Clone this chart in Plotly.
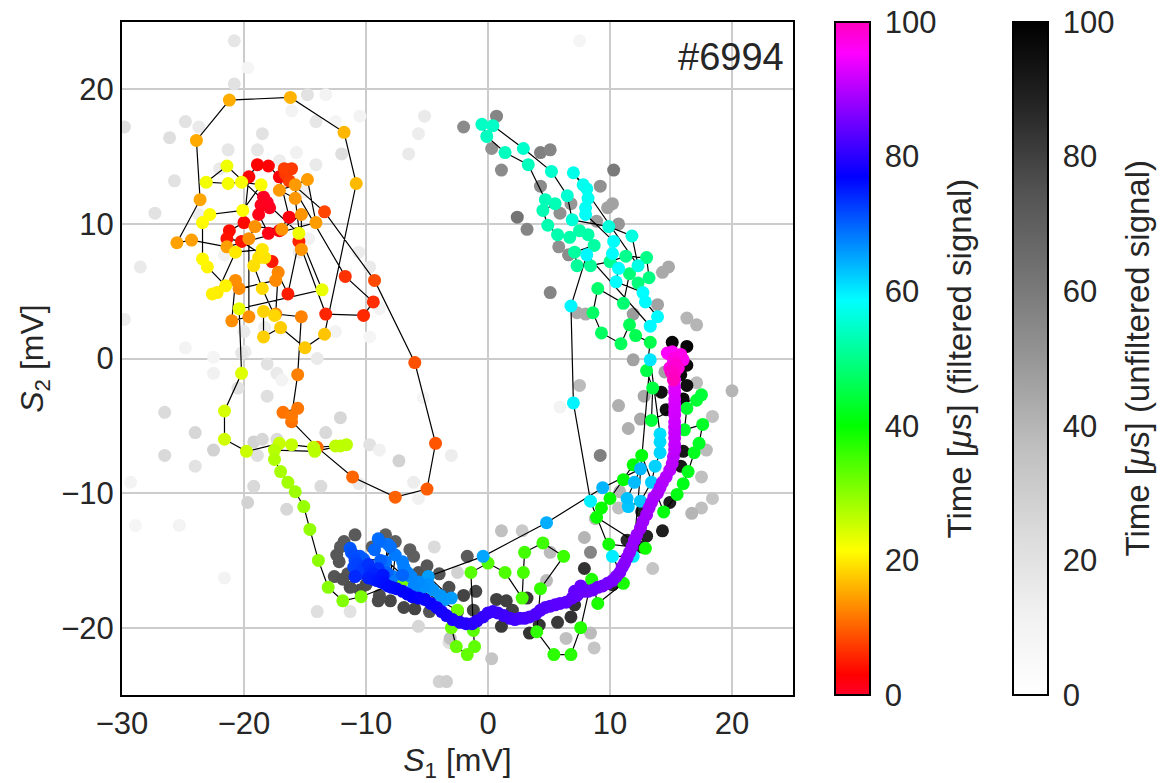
import plotly.graph_objects as go

# ---------------- filtered signal trajectory: (S1, S2, time) ----------------
seg_red = [
    (-18.1, 11.6, 0.0), (-18.4, 12.0, 0.3), (-17.9, 11.2, 0.6), (-18.6, 11.4, 0.9),
    (-18.8, 10.7, 1.2), (-18.0, 9.3, 1.5), (-17.1, 9.5, 1.8), (-16.3, 10.5, 2.1),
    (-17.1, 13.5, 2.4), (-18.0, 14.3, 2.7), (-18.9, 14.4, 3.0), (-19.6, 13.5, 3.3),
    (-20.0, 10.1, 3.6), (-21.2, 9.5, 3.9), (-21.4, 8.9, 4.2), (-20.2, 8.7, 4.5),
    (-17.7, 7.2, 4.8), (-16.4, 4.8, 5.1), (-15.5, 8.7, 5.4), (-13.3, 3.3, 5.7),
    (-10.2, 3.2, 6.0), (-9.4, 4.2, 6.3), (-11.7, 6.1, 6.6),
]
seg_redorange = [
    (-16.6, 13.7, 7.0), (-16.1, 14.1, 7.2), (-16.7, 14.1, 7.4), (-16.3, 13.2, 7.6),
    (-13.4, 10.9, 8.0), (-9.3, 5.8, 8.4), (-6.0, -0.3, 8.8), (-4.3, -6.3, 9.2),
    (-5.0, -9.7, 9.6), (-7.6, -10.3, 10.0), (-11.1, -8.8, 10.4), (-14.0, -6.6, 10.8),
    (-16.1, -4.7, 11.2), (-16.8, -4.0, 11.4), (-15.6, -3.7, 11.6), (-16.1, -4.3, 11.8),
    (-15.6, -1.2, 12.2),
]
seg_orange = [
    (-15.3, 3.1, 12.4), (-17.4, 3.3, 12.6), (-17.2, 6.4, 12.8), (-17.4, 5.8, 13.0),
    (-20.4, 5.2, 13.1), (-20.7, 5.8, 13.2), (-21.0, 2.8, 13.3), (-19.6, 3.1, 13.4),
    (-19.6, 8.9, 13.5), (-19.1, 9.8, 13.6), (-16.9, 9.6, 13.7), (-15.3, 10.7, 13.8),
    (-15.3, 8.1, 13.9), (-15.8, 11.9, 14.0), (-17.1, 12.5, 14.1), (-15.8, 12.9, 14.2),
    (-14.8, 13.3, 14.3), (-14.1, 10.1, 14.4), (-21.4, 8.3, 14.5), (-24.3, 8.8, 14.6),
    (-25.5, 8.6, 14.7), (-23.6, 11.8, 15.0), (-23.9, 16.2, 15.3), (-21.2, 19.2, 15.6),
    (-16.2, 19.4, 15.9), (-11.8, 16.8, 16.2), (-10.8, 13.0, 16.5),
]
seg_yellow = [
    (-13.4, 1.8, 17.2), (-15.0, 0.8, 17.5), (-17.0, 2.3, 17.8), (-18.4, 1.6, 18.0),
    (-18.4, 3.5, 18.3), (-17.5, 3.2, 18.6), (-18.5, 5.2, 18.9), (-19.2, 6.9, 19.2),
    (-18.8, 7.5, 19.4), (-18.3, 7.5, 19.6), (-18.5, 8.1, 19.8), (-20.7, 7.9, 20.0),
    (-22.2, 4.9, 20.2), (-22.6, 4.8, 20.4), (-21.5, 5.4, 20.6), (-23.0, 6.8, 20.8),
    (-23.4, 7.4, 21.0), (-23.4, 10.1, 21.2), (-22.8, 10.7, 21.4), (-20.1, 11.0, 21.6),
    (-18.6, 12.9, 21.8), (-20.2, 13.1, 22.0), (-21.3, 13.0, 22.2), (-23.1, 13.1, 22.4),
    (-21.4, 14.3, 22.6), (-15.5, 9.3, 22.8), (-13.6, 5.1, 23.0), (-20.4, 3.7, 23.2),
    (-20.2, -1.1, 24.0),
]
seg_yellowgreen = [
    (-21.6, -3.9, 24.5), (-21.6, -6.0, 25.0), (-19.8, -6.9, 25.3), (-17.1, -6.3, 25.6),
    (-16.1, -6.4, 25.8), (-14.3, -6.6, 26.0), (-12.5, -6.5, 26.2), (-12.1, -6.5, 26.3),
    (-11.6, -6.4, 26.4), (-14.2, -6.9, 26.6), (-17.5, -6.8, 26.9), (-17.5, -7.5, 27.2),
]
seg_lime = [
    (-17.0, -8.4, 27.8), (-16.4, -9.2, 28.2), (-15.8, -9.9, 28.6), (-15.1, -11.0, 29.0),
    (-14.6, -12.7, 29.4), (-13.9, -15.0, 29.8), (-13.1, -17.0, 30.2), (-11.9, -18.0, 30.6),
    (-10.4, -17.7, 31.0), (-7.0, -16.5, 31.5), (-2.5, -18.7, 32.0), (-3.0, -20.0, 32.3),
    (-2.6, -21.4, 32.6), (-1.7, -22.0, 32.9), (-1.1, -21.4, 33.2), (-1.2, -20.2, 33.5),
    (-1.4, -15.9, 33.8), (0.0, -15.2, 34.1), (1.4, -15.9, 34.4), (2.8, -17.8, 34.7),
    (2.9, -15.9, 35.0), (3.0, -14.4, 35.3), (4.5, -13.7, 35.6), (6.2, -14.7, 35.9),
    (4.3, -17.1, 36.2), (4.0, -20.3, 36.5), (5.4, -22.0, 36.8), (6.8, -22.0, 37.1),
    (7.6, -20.0, 37.4), (8.5, -16.4, 37.7), (9.0, -18.2, 38.0), (11.1, -16.7, 38.3),
    (9.9, -13.8, 38.6), (12.9, -14.1, 38.9), (8.9, -11.8, 39.2), (9.3, -11.1, 39.5),
]
seg_green = [
    (10.0, -10.4, 39.8), (11.1, -9.0, 40.1), (11.9, -7.9, 40.4), (12.6, -7.2, 40.7),
    (14.4, -11.4, 41.0), (15.5, -10.1, 41.3), (16.0, -9.3, 41.6), (16.4, -8.4, 41.9),
    (16.9, -7.0, 42.2), (17.3, -6.3, 42.5), (17.6, -4.9, 42.8), (16.1, -5.3, 43.1),
    (16.3, -3.7, 43.4), (17.1, -3.1, 43.7), (17.5, -2.7, 44.0), (13.4, -4.6, 44.3),
    (13.5, -2.2, 44.6), (13.0, -0.9, 45.0), (13.3, 1.2, 45.4), (12.1, 1.7, 45.8),
    (11.6, 2.5, 46.2), (10.9, 1.1, 46.6), (9.3, 1.9, 47.0), (8.6, 3.4, 47.4),
    (9.0, 5.2, 47.8), (11.1, 4.1, 48.2), (11.6, 6.3, 48.6), (12.3, 5.6, 49.0),
    (13.2, 6.0, 49.4), (13.0, 7.5, 49.8), (11.3, 7.6, 50.2), (10.0, 7.2, 50.6),
]
seg_aqua = [
    (8.4, 6.9, 51.0), (7.3, 6.9, 51.3), (7.1, 7.9, 51.6), (8.7, 8.4, 51.9),
    (8.2, 9.2, 52.1), (7.5, 9.5, 52.3), (6.7, 9.0, 52.5), (5.7, 9.2, 52.7),
    (4.9, 9.9, 52.9), (4.5, 11.0, 53.1), (5.5, 11.5, 53.3), (4.7, 11.8, 53.5),
    (3.3, 14.4, 53.7), (1.4, 15.3, 53.9), (-0.1, 16.5, 54.1), (-0.5, 17.4, 54.3),
    (0.4, 17.3, 54.5), (2.9, 15.6, 54.8), (5.2, 13.9, 55.1), (6.5, 12.1, 55.4),
    (6.9, 10.3, 55.7), (9.9, 9.8, 56.0), (11.8, 9.1, 56.3), (12.3, 6.9, 56.6),
    (7.0, 13.8, 57.0), (7.8, 12.9, 57.2), (8.1, 12.6, 57.4), (8.2, 11.9, 57.6),
    (8.0, 11.2, 57.8), (8.0, 10.7, 58.0), (10.3, 8.7, 58.2), (10.2, 7.8, 58.4),
    (10.7, 6.7, 58.5), (10.5, 5.7, 58.6), (12.7, 4.9, 58.7), (12.9, 4.2, 58.8),
    (13.9, 3.1, 58.9), (13.3, 2.4, 59.0), (8.1, 7.7, 59.1),
]
seg_cyan = [
    (6.8, 3.9, 59.2), (7.0, -3.3, 59.4), (8.4, -10.6, 59.6), (10.2, -14.7, 59.8),
    (11.9, -14.7, 60.0), (13.3, -0.1, 60.4), (14.1, -5.6, 61.0), (14.1, -6.2, 61.3),
    (14.1, -7.0, 61.6), (13.7, -8.0, 61.9), (13.4, -9.2, 62.2), (12.5, -10.6, 62.5),
    (11.5, -11.0, 62.8), (11.4, -10.4, 63.1), (12.0, -9.2, 63.4), (12.5, -8.2, 63.7),
    (9.4, -9.6, 64.0), (4.8, -12.2, 64.5), (-0.4, -14.7, 65.0),
]
seg_blue = [
    (-4.9, -16.2, 65.5), (-3.0, -17.8, 65.7), (-3.5, -17.9, 65.9), (-3.9, -17.6, 66.1),
    (-4.5, -17.2, 66.3), (-4.9, -16.8, 66.5), (-5.3, -17.0, 66.7), (-5.7, -16.6, 66.9),
    (-6.1, -17.0, 67.1), (-6.3, -16.2, 67.3), (-6.6, -15.9, 67.5), (-6.9, -15.5, 67.7),
    (-7.0, -15.1, 67.9), (-7.6, -14.6, 68.1), (-7.8, -16.2, 68.3), (-8.2, -13.8, 68.5),
    (-8.4, -15.1, 68.7), (-8.0, -14.0, 68.9), (-8.9, -13.6, 69.1), (-9.0, -13.4, 69.3),
    (-9.3, -14.2, 69.5), (-7.0, -16.1, 69.7), (-8.3, -15.9, 69.9), (-8.8, -15.0, 70.1),
    (-10.2, -14.9, 70.3), (-10.5, -14.7, 70.5), (-11.3, -14.1, 70.8), (-11.2, -14.4, 71.1),
    (-11.0, -14.6, 71.4), (-10.9, -15.0, 71.7), (-11.0, -15.5, 72.0), (-10.7, -15.3, 72.3),
    (-10.6, -16.0, 72.6), (-10.3, -15.7, 72.9), (-9.0, -15.6, 73.2), (-9.8, -15.3, 73.5),
    (-9.6, -15.8, 73.8), (-10.9, -16.2, 74.1), (-9.4, -16.0, 74.4), (-9.8, -16.3, 74.7),
    (-9.4, -16.4, 75.0), (-9.1, -16.5, 75.3), (-8.6, -16.1, 75.5), (-8.8, -16.6, 75.7),
    (-8.5, -16.7, 75.9), (-8.2, -16.9, 76.1), (-7.9, -17.0, 76.3), (-7.5, -17.1, 76.5),
    (-7.0, -17.3, 76.7), (-6.6, -17.5, 76.9), (-6.2, -17.7, 77.1), (-5.7, -17.8, 77.3),
    (-5.2, -17.9, 77.5), (-4.7, -18.2, 77.8), (-4.2, -18.5, 78.1), (-3.8, -18.8, 78.4),
    (-3.4, -19.1, 78.7), (-2.9, -19.4, 79.0), (-2.3, -19.6, 79.3), (-1.8, -19.7, 79.6),
    (-1.3, -19.7, 79.9),
]
seg_violet = [
    (-0.9, -19.5, 80.2), (-0.4, -19.2, 80.5), (0.0, -18.9, 80.8), (0.4, -18.8, 81.0),
    (0.8, -18.9, 81.2), (1.3, -19.1, 81.4), (1.8, -19.3, 81.6), (2.2, -19.4, 81.8),
    (2.6, -19.3, 82.0), (3.0, -19.3, 82.2), (3.4, -19.2, 82.4), (3.9, -19.0, 82.6),
    (4.3, -18.7, 82.8), (4.7, -18.5, 83.0), (5.1, -18.4, 83.2), (5.5, -18.3, 83.4),
    (5.9, -18.2, 83.6), (6.4, -18.1, 83.8), (6.9, -17.8, 84.0), (7.1, -17.3, 84.1),
    (7.3, -17.6, 84.2), (7.8, -17.3, 84.4), (7.6, -16.9, 84.5), (8.2, -17.3, 84.6),
    (8.6, -17.2, 84.8), (9.0, -17.0, 85.0), (9.4, -16.9, 85.2), (9.8, -16.7, 85.4),
    (10.2, -16.5, 85.6), (10.5, -16.2, 85.8), (10.8, -15.9, 86.0), (11.0, -15.5, 86.3),
    (11.2, -15.2, 86.6), (11.4, -14.8, 86.9), (11.6, -14.4, 87.2), (11.8, -14.0, 87.5),
    (12.0, -13.5, 87.8), (12.2, -13.1, 88.0), (12.5, -12.6, 88.2), (12.7, -12.1, 88.4),
    (13.0, -11.6, 88.6), (13.2, -11.1, 88.8), (13.4, -10.7, 89.0), (13.6, -10.3, 89.2),
    (13.9, -10.0, 89.4), (14.1, -9.6, 89.6), (14.3, -9.2, 89.8), (14.6, -8.8, 90.0),
    (14.9, -8.3, 90.2), (15.1, -7.8, 90.4), (15.2, -7.3, 90.6), (15.3, -6.8, 90.8),
    (15.3, -6.4, 91.0), (15.3, -5.9, 91.2), (15.3, -5.5, 91.4), (15.3, -5.1, 91.6),
    (15.3, -4.7, 91.8), (15.3, -4.2, 92.0), (15.3, -3.8, 92.2), (15.3, -3.4, 92.4),
    (15.3, -3.0, 92.6), (15.3, -2.5, 92.8), (15.3, -2.1, 93.0), (15.3, -1.6, 93.3),
    (15.2, -1.1, 93.6), (15.2, -0.7, 94.0),
]
seg_magenta = [
    (15.2, -0.3, 94.5), (14.9, 0.3, 95.0), (14.7, 0.4, 95.4), (15.1, 0.5, 95.8),
    (15.5, 0.1, 96.2), (16.0, -0.1, 96.6), (15.8, 0.3, 97.0), (15.2, 0.0, 97.4),
    (14.9, -0.7, 97.8), (15.6, -0.7, 98.2), (15.4, -0.4, 98.6), (15.3, -1.1, 99.0),
    (15.0, -1.0, 99.5), (15.2, -1.6, 100.0),
]

# ---------------- unfiltered signal: (S1, S2, time) ----------------
raw_upper_left = [
    (-20.8, 23.6, 18), (-19.7, 21.6, 8), (-20.8, 20.4, 20), (-14.8, 19.6, 20),
    (-13.3, 19.6, 10), (-16.1, 18.4, 10), (-14.1, 17.6, 18), (-10.5, 18.0, 10),
    (-5.2, 18.0, 16), (-5.7, 16.7, 14), (-6.5, 15.2, 16), (-12.5, 17.6, 8),
    (-24.8, 17.6, 20), (-23.7, 17.2, 16), (-26.1, 16.4, 22), (-18.5, 16.7, 20),
    (-21.3, 15.5, 18), (-18.9, 15.5, 18), (-15.7, 15.3, 12), (-12.0, 15.2, 22),
    (-14.1, 14.4, 16), (-25.7, 13.2, 20), (-27.3, 10.8, 20), (-29.8, 17.2, 22),
    (-28.5, 6.8, 16), (-29.8, 2.9, 14), (-10.6, 7.9, 14), (-9.7, 6.8, 16),
    (-8.9, 3.7, 10), (-12.5, 2.0, 10), (-9.7, 1.6, 8), (-20.0, 2.0, 16),
    (-18.3, 2.3, 14), (-24.8, 0.8, 10), (-22.5, 0.1, 8), (-19.9, 0.5, 14),
    (-14.7, 8.9, 12), (-15.5, 7.9, 14), (-21.6, 7.7, 12), (-23.7, 10.7, 14),
    (-22.0, 14.1, 16), (-15.0, 12.4, 12), (-17.1, 14.7, 14), (-20.2, 0.4, 18),
    (-18.1, -0.4, 20), (-17.3, -1.1, 16), (-16.9, -1.6, 10), (-14.0, 0.0, 16),
    (-20.5, -2.2, 20), (-18.1, -2.8, 22), (-22.5, -1.1, 12), (-5.3, -2.9, 8),
]
raw_lower_left = [
    (-26.5, -4.0, 24), (-24.0, -5.5, 26), (-22.5, -6.8, 28), (-26.5, -7.2, 25),
    (-24.0, -8.0, 20), (-29.3, -9.2, 10), (-19.2, -6.2, 28), (-18.5, -6.0, 26),
    (-17.3, -6.0, 24), (-18.9, -7.2, 22), (-19.2, -9.5, 25), (-19.7, -10.7, 28),
    (-16.5, -11.2, 26), (-13.7, -9.5, 24), (-13.3, -5.5, 25), (-12.1, -4.4, 26),
    (-9.7, -6.4, 20), (-8.9, -6.8, 12), (-7.3, -7.6, 28), (-6.1, -9.2, 14),
    (-5.7, -10.4, 12), (-10.6, -9.3, 16), (-3.0, -7.2, 14), (-28.9, -12.4, 8),
    (-25.3, -12.4, 10), (-21.6, -16.3, 10), (-14.0, -18.8, 22), (-11.3, -18.8, 20),
    (-4.4, -14.0, 24), (-5.7, -19.9, 26), (-3.2, -21.1, 22), (-4.0, -24.0, 28),
    (-2.5, -15.9, 28), (5.9, -3.6, 10),
]
raw_bottom = [
    (-10.9, -13.1, 72), (-8.4, -13.1, 70), (-12.1, -14.0, 72), (-12.2, -15.1, 74),
    (-6.1, -14.7, 70), (-5.7, -15.9, 75), (-8.9, -17.6, 76), (-6.9, -18.5, 78),
    (-4.8, -18.8, 74), (-3.2, -17.0, 76), (-11.5, -16.0, 74), (-10.0, -16.8, 76),
    (-9.5, -14.0, 70), (-7.5, -16.3, 72), (-1.7, -14.7, 72), (0.7, -17.9, 80),
    (1.1, -19.9, 82), (3.4, -20.4, 84), (5.7, -19.6, 82), (-1.2, -18.7, 78),
    (2.0, -18.7, 80), (-12.6, -16.2, 74), (-9.0, -18.0, 77), (-2.0, -17.6, 79),
    (-11.8, -13.6, 72), (-12.4, -14.6, 73), (-11.9, -16.4, 75), (-10.5, -17.2, 77),
    (-8.0, -18.0, 78), (-7.6, -13.6, 70), (-6.4, -14.2, 70), (-5.0, -15.4, 73),
    (-4.0, -16.0, 74), (-6.0, -18.6, 79), (-2.5, -18.8, 80), (-1.0, -17.3, 78),
    (1.5, -18.0, 80), (3.2, -17.8, 82), (4.2, -19.8, 83), (6.8, -19.2, 84),
    (-11.3, -17.0, 76),
    (0.3, -22.3, 34), (-3.1, -20.8, 36), (6.4, -20.8, 36), (8.4, -20.4, 38),
    (8.7, -21.5, 34), (4.8, -16.5, 38), (1.1, -12.8, 36), (2.8, -12.8, 32),
    (5.1, -14.4, 38), (7.9, -13.3, 40), (8.4, -14.4, 56), (-3.4, -24.0, 30),
]
raw_right_arc = [
    (20.0, -2.4, 40), (17.1, -1.8, 38), (18.4, -4.3, 36), (17.9, -6.8, 38),
    (17.5, -8.8, 36), (18.4, -10.4, 34), (17.5, -11.1, 36), (16.7, -11.5, 40),
    (13.5, -15.6, 34), (7.5, -2.0, 38), (10.7, -3.5, 42), (11.5, -5.2, 42),
    (12.5, -4.5, 44), (10.8, -9.9, 40), (9.2, -7.2, 58), (10.7, -11.1, 36),
    (8.8, -11.9, 38), (14.5, -1.0, 46), (12.8, -2.8, 44),
]
raw_upper_band = [
    (-2.0, 17.2, 54), (0.7, 18.0, 56), (0.3, 15.6, 52), (1.1, 14.0, 54),
    (4.3, 15.3, 58), (5.1, 15.5, 56), (10.3, 14.0, 60), (9.2, 12.8, 52),
    (4.3, 12.8, 54), (2.4, 10.5, 62), (3.2, 9.6, 56), (5.9, 10.8, 52),
    (9.8, 11.2, 46), (10.2, 11.5, 46), (10.7, 10.0, 50), (5.8, 8.3, 52),
    (6.6, 7.7, 54), (14.3, 6.4, 44), (14.8, 6.8, 44), (5.1, 4.9, 56),
    (7.3, 3.4, 44), (8.0, 3.3, 44), (16.3, 3.0, 40), (17.1, 2.5, 40),
    (13.9, 4.0, 46), (11.9, -0.1, 46), (11.9, 3.3, 48), (7.5, 23.6, 8),
    (6.8, 11.5, 50), (8.9, 10.2, 48),
]
raw_black = [
    (15.1, 1.2, 98), (16.3, 0.9, 98), (16.3, -0.5, 96), (16.3, -2.0, 95),
    (14.6, -3.8, 94), (16.0, -6.9, 92), (14.9, -10.7, 90), (12.6, -11.4, 88),
    (11.4, -13.5, 86), (12.6, -14.0, 88), (7.9, -15.6, 84), (10.2, -16.8, 86),
    (7.1, -18.3, 84), (8.6, -16.8, 80), (15.8, -1.2, 97), (16.0, -3.0, 96),
    (14.2, -2.5, 94), (15.8, -8.0, 92), (14.3, -12.8, 90), (13.0, -13.2, 88),
]

x_ticks = [-30, -20, -10, 0, 10, 20]
y_ticks = [-20, -10, 0, 10, 20]
cbar_ticks = [0, 20, 40, 60, 80, 100]
shot_label = "#6994"
cbar_titles = ["Time [<i>μ</i>s] (filtered signal)", "Time [<i>μ</i>s] (unfiltered signal)"]

filtered = (seg_red + seg_redorange + seg_orange + seg_yellow + seg_yellowgreen
            + seg_lime + seg_green + seg_aqua + seg_cyan + seg_blue + seg_violet
            + seg_magenta)
raw = raw_upper_left + raw_lower_left + raw_bottom + raw_right_arc + raw_upper_band + raw_black

fx = [p[0] for p in filtered]
fy = [p[1] for p in filtered]
ft = [p[2] for p in filtered]
rx = [p[0] for p in raw]
ry = [p[1] for p in raw]
rt = [p[2] for p in raw]

gist_rainbow = [
    [0.0, "rgb(255,0,41)"], [0.03, "rgb(255,0,0)"], [0.215, "rgb(255,255,0)"],
    [0.4, "rgb(0,255,0)"], [0.586, "rgb(0,255,255)"], [0.77, "rgb(0,0,255)"],
    [0.954, "rgb(255,0,255)"], [1.0, "rgb(255,0,191)"],
]
greys = [
    [0.0, "#ffffff"], [0.125, "#f0f0f0"], [0.25, "#d9d9d9"], [0.375, "#bdbdbd"],
    [0.5, "#969696"], [0.625, "#737373"], [0.75, "#525252"], [0.875, "#252525"],
    [1.0, "#000000"],
]

FONT = "Liberation Sans, Arial, sans-serif"
TXT = "#262626"
FS = 31
W, H = 1161, 783
L, R, T, B = 122, 368, 22, 88
pw = W - L - R

def cbar(xpx):
    return dict(
        x=(xpx - L) / pw, xanchor="left", xref="paper", xpad=0, ypad=0,
        y=0.5, yanchor="middle", len=1.0, lenmode="fraction",
        thickness=35, thicknessmode="pixels",
        outlinewidth=2, outlinecolor="black",
        tickmode="array", tickvals=cbar_ticks,
        ticks="outside", ticklen=8, tickcolor="rgba(0,0,0,0)",
        tickfont=dict(size=FS, family=FONT, color=TXT),
    )

fig = go.Figure()
fig.add_trace(go.Scatter(
    x=rx, y=ry, mode="markers", hoverinfo="skip", showlegend=False,
    marker=dict(size=13, color=rt, colorscale=greys, cmin=0, cmax=100,
                line=dict(width=0), showscale=True, colorbar=cbar(1013)),
))
fig.add_trace(go.Scatter(
    x=fx, y=fy, mode="lines", hoverinfo="skip", showlegend=False,
    line=dict(color="black", width=1.2),
))
fig.add_trace(go.Scatter(
    x=fx, y=fy, mode="markers", hoverinfo="skip", showlegend=False,
    marker=dict(size=13, color=ft, colorscale=gist_rainbow, cmin=0, cmax=100,
                line=dict(width=0), showscale=True, colorbar=cbar(835)),
))

# colour-bar titles (rotated text)
for txt, xpx in zip(cbar_titles, [959, 1137]):
    fig.add_annotation(text=txt, xref="paper", yref="paper", x=(xpx - L) / pw, y=0.5,
                       xanchor="center", yanchor="middle", textangle=-90, showarrow=False,
                       font=dict(size=33, family=FONT, color=TXT))

axis_common = dict(
    showgrid=True, gridcolor="#cccccc", gridwidth=2, zeroline=False,
    showline=True, linecolor="black", linewidth=2, mirror=True, ticks="",
    tickfont=dict(size=FS, family=FONT, color=TXT),
)
fig.update_xaxes(range=[-30, 25], tickvals=x_ticks,
                 title=dict(text="<i>S</i><sub>1</sub> [mV]", font=dict(size=32, family=FONT, color=TXT), standoff=10),
                 **axis_common)
fig.update_yaxes(range=[-25, 25], tickvals=y_ticks,
                 title=dict(text="<i>S</i><sub>2</sub> [mV]", font=dict(size=32, family=FONT, color=TXT), standoff=8),
                 **axis_common)

fig.add_annotation(text=shot_label, xref="x", yref="y", x=24.4, y=22.4,
                   xanchor="right", yanchor="middle", showarrow=False,
                   font=dict(size=38, family=FONT, color=TXT))

fig.update_layout(
    width=W, height=H, margin=dict(l=L, r=R, t=T, b=B, autoexpand=False),
    paper_bgcolor="white", plot_bgcolor="white",
    font=dict(family=FONT, color=TXT),
)
fig.write_html("out.html")
